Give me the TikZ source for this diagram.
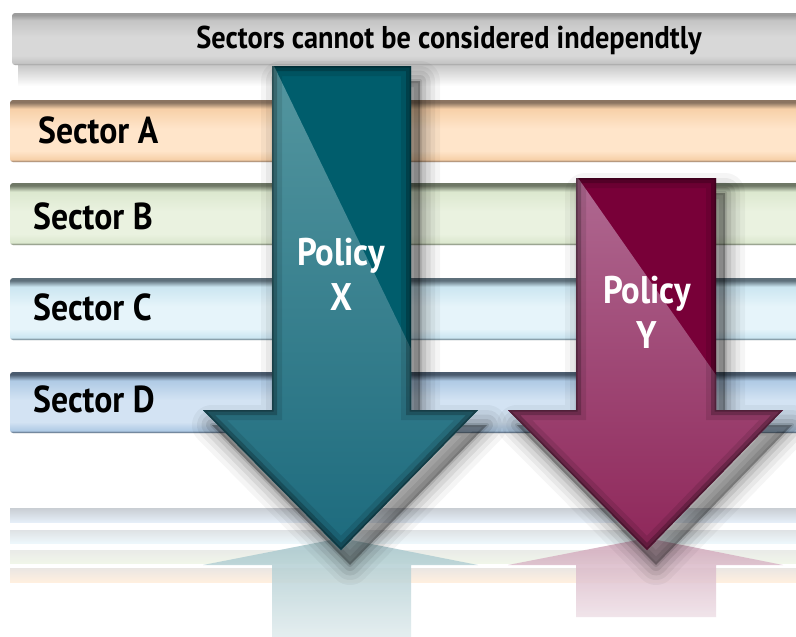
\documentclass[tikz,border=0pt]{standalone}
\usepackage{fontspec}
\setmainfont{PT Sans}[FakeStretch=0.9]
% colours
\definecolor{Tedge}{HTML}{9C9C9C}\definecolor{Tbody}{HTML}{C4C4C4}\definecolor{Tlite}{HTML}{D8D8D8}
\definecolor{Aedge}{HTML}{8B7461}\definecolor{Abody}{HTML}{F7D0A8}\definecolor{Alite}{HTML}{FFE5CA}
\definecolor{Bedge}{HTML}{6F7866}\definecolor{Bbody}{HTML}{DCE8CF}\definecolor{Blite}{HTML}{EAF2E0}
\definecolor{Cedge}{HTML}{5E707B}\definecolor{Cbody}{HTML}{CBE6F1}\definecolor{Clite}{HTML}{E6F4FA}
\definecolor{Dedge}{HTML}{4A5B6E}\definecolor{Dbody}{HTML}{AFCAE5}\definecolor{Dlite}{HTML}{D3E3F3}
\definecolor{tealdark}{HTML}{005D6C}\definecolor{tealgla}{HTML}{5597A0}\definecolor{tealglb}{HTML}{17667A}
\definecolor{maroondark}{HTML}{780038}\definecolor{maroongla}{HTML}{B06A92}\definecolor{maroonglb}{HTML}{8A1E52}
\newcommand\mkbarshade[4]{\pgfdeclareverticalshading{#1}{100bp}{color(0bp)=(#2); color(25bp)=(#2); color(27bp)=(#3); color(34bp)=(#4); color(52bp)=(#4); color(68bp)=(#3); color(73bp)=(#2); color(75bp)=(#2); color(100bp)=(#2)}}
\mkbarshade{barT}{Tedge}{Tbody}{Tlite}
\mkbarshade{barA}{Aedge}{Abody}{Alite}
\mkbarshade{barB}{Bedge}{Bbody}{Blite}
\mkbarshade{barC}{Cedge}{Cbody}{Clite}
\mkbarshade{barD}{Dedge}{Dbody}{Dlite}
\newcommand\arrowXpath{(272,66) -- (411,66) -- (411,410) -- (478,410) -- (341,550) -- (203,410) -- (272,410) -- cycle}
\newcommand\arrowYpath{(576,178) -- (716,178) -- (716,410) -- (783,410) -- (647,550) -- (508,410) -- (576,410) -- cycle}
\newcommand\softshadow[1]{%
  \begin{scope}[shift={(9,15)}]
    \foreach \w/\o in {40/0.04, 30/0.05, 21/0.07, 12/0.09, 4/0.11}
      \draw[black, opacity=\o, line width=\w, line join=round] #1;
    \fill[black, opacity=0.30] #1;
  \end{scope}}
\tikzset{
  sectortext/.style={anchor=base west, inner sep=0pt, font=\fontsize{37.5}{40}\selectfont\bfseries, text=black},
  policytext/.style={align=center, inner sep=0pt, font=\fontsize{38.5}{45}\selectfont\bfseries, text=white},
  bevel/.style={line width=#1, line join=miter},
}
\begin{document}
\begin{tikzpicture}[x=1pt,y=-1pt]
\useasboundingbox (0,0) rectangle (796,637);
\fill[white] (0,0) rectangle (796,637);
% shadow under the top bar
\shade[top color=black!22, bottom color=white] (18,65) rectangle (796,86);
% top bar
\path[shading=barT, rounded corners=3pt] (12,13) rectangle (800,65);
% sector bars
\path[shading=barA, rounded corners=3pt] (10,100) rectangle (800,162);
\path[shading=barB, rounded corners=3pt] (10,183) rectangle (800,245);
\path[shading=barC, rounded corners=3pt] (10,278) rectangle (800,340);
\path[shading=barD, rounded corners=3pt] (10,372) rectangle (800,433);
% reflection strips
\shade[top color=Dedge!30, bottom color=Dlite!60] (10,508) rectangle (796,522);
\shade[top color=Cedge!20, bottom color=Clite!70] (10,530) rectangle (796,543);
\shade[top color=Bedge!15, bottom color=Blite!70] (10,550) rectangle (796,563);
\shade[top color=Aedge!18, bottom color=Alite!60] (10,568) rectangle (796,582);
% reflections of the arrows
\shade[top color=tealdark!35, bottom color=tealdark!12, opacity=0.85]
  (341,538) -- (478,565) -- (411,565) -- (411,637) -- (272,637) -- (272,565) -- (203,565) -- cycle;
\shade[top color=maroondark!35, bottom color=maroondark!12, opacity=0.85]
  (647,538) -- (783,565) -- (716,565) -- (716,617) -- (576,617) -- (576,565) -- (508,565) -- cycle;
% shadows of the arrows
\softshadow{\arrowXpath}
\softshadow{\arrowYpath}
% arrow X
\fill[tealdark] \arrowXpath;
\begin{scope}
  \clip \arrowXpath;
  \shade[top color=tealgla, bottom color=tealglb] (150,60) -- (274,66) -- (413,353) -- (500,353) -- (500,600) -- (150,600) -- cycle;
  \draw[bevel=20, black, opacity=0.10] \arrowXpath;
  \draw[bevel=10, black, opacity=0.22] \arrowXpath;
  \draw[bevel=3, black, opacity=0.25] \arrowXpath;
\end{scope}
% arrow Y
\fill[maroondark] \arrowYpath;
\begin{scope}
  \clip \arrowYpath;
  \shade[top color=maroongla, bottom color=maroonglb] (450,170) -- (578,178) -- (716,375) -- (800,375) -- (800,600) -- (450,600) -- cycle;
  \draw[bevel=20, black, opacity=0.10] \arrowYpath;
  \draw[bevel=10, black, opacity=0.22] \arrowYpath;
  \draw[bevel=3, black, opacity=0.25] \arrowYpath;
\end{scope}
% texts
\node[anchor=base, inner sep=0pt, font=\fontsize{31.5}{34}\selectfont\bfseries] (title) at (449,48) {Sectors cannot be considered independtly};
\node[sectortext] (sa) at (38,143) {Sector A};
\node[sectortext] (sb) at (33,229) {Sector B};
\node[sectortext] (sc) at (33,320) {Sector C};
\node[sectortext] (sd) at (33,412) {Sector D};
\node[policytext, anchor=base] (px) at (341,310) {Policy\\X};
\node[policytext, anchor=base] (py) at (647,348) {Policy\\Y};
\end{tikzpicture}
\end{document}
